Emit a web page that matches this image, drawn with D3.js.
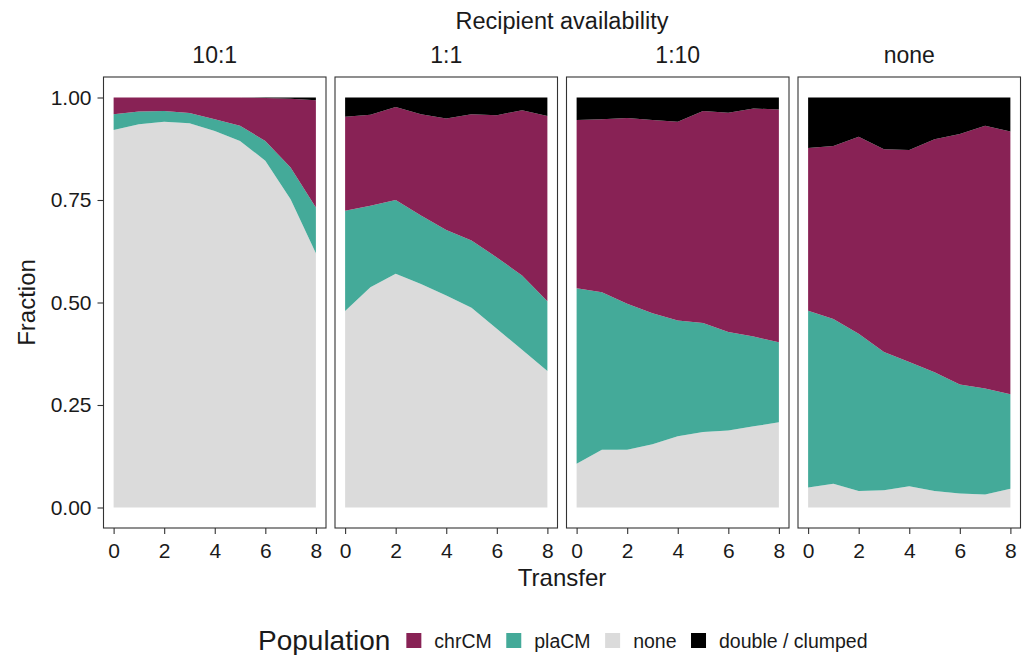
<!DOCTYPE html>
<html>
<head>
<meta charset="utf-8">
<script src="https://cdn.jsdelivr.net/npm/d3@7"></script>
<style>
    body { margin: 0; background: #fff; }
    text { font-family: "Liberation Sans", Arial, sans-serif; fill: #1a1a1a; }
</style>
</head>
<body>
<svg id="chart" width="1028" height="655"></svg>
<script>
// values, one row per recipient availability panel
const transfers = [0, 1, 2, 3, 4, 5, 6, 7, 8];
const availability = ['10:1', '1:1', '1:10', 'none'];
const legendKeys = ['chrCM', 'plaCM', 'none', 'double'];
const legendLabels = ['chrCM', 'plaCM', 'none', 'double / clumped'];
const popColors = { chrCM: '#882255', plaCM: '#44AA99', none: '#DBDBDB', double: '#000000' };
const stackKeys = ['none', 'plaCM', 'chrCM', 'double'];   // bottom to top
const yTicks = [0, 0.25, 0.5, 0.75, 1];
const xTicks = [0, 2, 4, 6, 8];

const noneFrac = [
    [0.921, 0.935, 0.941, 0.937, 0.918, 0.894, 0.846, 0.752, 0.620],
    [0.479, 0.537, 0.570, 0.545, 0.517, 0.487, 0.436, 0.385, 0.333],
    [0.107, 0.141, 0.141, 0.154, 0.174, 0.184, 0.188, 0.198, 0.208],
    [0.049, 0.058, 0.040, 0.042, 0.052, 0.040, 0.034, 0.032, 0.046]
];
const plaFrac = [
    [0.038, 0.031, 0.026, 0.025, 0.029, 0.037, 0.048, 0.077, 0.112],
    [0.245, 0.199, 0.180, 0.167, 0.160, 0.164, 0.174, 0.181, 0.170],
    [0.428, 0.384, 0.356, 0.320, 0.282, 0.266, 0.240, 0.219, 0.195],
    [0.431, 0.402, 0.384, 0.337, 0.303, 0.290, 0.266, 0.258, 0.230]
];
const chrFrac = [
    [0.041, 0.034, 0.033, 0.038, 0.053, 0.069, 0.105, 0.168, 0.261],
    [0.229, 0.222, 0.227, 0.247, 0.272, 0.308, 0.347, 0.403, 0.452],
    [0.410, 0.422, 0.453, 0.471, 0.485, 0.517, 0.535, 0.556, 0.568],
    [0.397, 0.422, 0.480, 0.495, 0.517, 0.568, 0.611, 0.641, 0.641]
];
const doubleFrac = [
    [0.000, 0.000, 0.000, 0.000, 0.000, 0.000, 0.001, 0.003, 0.007],
    [0.047, 0.042, 0.023, 0.041, 0.051, 0.041, 0.043, 0.031, 0.045],
    [0.055, 0.053, 0.050, 0.055, 0.059, 0.033, 0.037, 0.027, 0.029],
    [0.123, 0.118, 0.096, 0.126, 0.128, 0.102, 0.089, 0.069, 0.083]
];

let svg = d3.select('#chart');
let config = {
    left: 103.5,
    top: 77,
    panelWidth: 222.5,
    panelHeight: 451,
    gap: 9
};
let totalRight = config.left + 4 * config.panelWidth + 3 * config.gap;

// ggplot style 5% expansion on both axes
let xScale = d3.scaleLinear().domain([-0.4, 8.4]).range([0, config.panelWidth]);
let yScale = d3.scaleLinear().domain([-0.05, 1.05]).range([config.panelHeight, 0]);

let stack = d3.stack().keys(stackKeys);
let area = d3.area()
    .x(d => xScale(d.data.transfer))
    .y0(d => yScale(d[0]))
    .y1(d => yScale(d[1]));

function panelRows(p) {
    return transfers.map((t, i) => ({
        transfer: t,
        none: noneFrac[p][i],
        plaCM: plaFrac[p][i],
        chrCM: chrFrac[p][i],
        double: doubleFrac[p][i]
    }));
}

availability.forEach((name, p) => {
    let x0 = config.left + p * (config.panelWidth + config.gap);
    let panel = svg.append('g')
        .attr('transform', `translate(${x0},${config.top})`);

    panel.selectAll('path.layer')
        .data(stack(panelRows(p)))
        .enter()
        .append('path')
        .attr('class', 'layer')
        .attr('fill', d => popColors[d.key])
        .attr('d', area);

    panel.append('rect')
        .attr('width', config.panelWidth)
        .attr('height', config.panelHeight)
        .attr('fill', 'none')
        .attr('stroke', '#333333')
        .attr('stroke-width', 1.1);

    // strip label
    svg.append('text')
        .attr('x', x0 + config.panelWidth / 2)
        .attr('y', 62.5)
        .style('text-anchor', 'middle')
        .style('font-size', '23px')
        .text(name);

    let xAxis = panel.append('g')
        .attr('transform', `translate(0,${config.panelHeight})`)
        .call(d3.axisBottom(xScale).tickValues(xTicks).tickSize(6).tickPadding(9));
    xAxis.select('.domain').remove();
    xAxis.selectAll('line').attr('stroke', '#333333').attr('stroke-width', 1.1);
    xAxis.selectAll('text').style('font-size', '21px').attr('fill', '#1a1a1a');
});

// y axis only on the first panel
let yAxis = svg.append('g')
    .attr('transform', `translate(${config.left},${config.top})`)
    .call(d3.axisLeft(yScale).tickValues(yTicks).tickFormat(d3.format('.2f')).tickSize(6).tickPadding(6));
yAxis.select('.domain').remove();
yAxis.selectAll('line').attr('stroke', '#333333').attr('stroke-width', 1.1);
yAxis.selectAll('text').style('font-size', '21px').attr('fill', '#1a1a1a');

// titles
let midX = (config.left + totalRight) / 2;
svg.append('text')
    .attr('x', midX)
    .attr('y', 28.5)
    .style('text-anchor', 'middle')
    .style('font-size', '23.5px')
    .text('Recipient availability');
svg.append('text')
    .attr('x', midX)
    .attr('y', 586)
    .style('text-anchor', 'middle')
    .style('font-size', '24px')
    .text('Transfer');
svg.append('text')
    .attr('transform', `translate(35,${config.top + config.panelHeight / 2}) rotate(-90)`)
    .style('text-anchor', 'middle')
    .style('font-size', '24px')
    .text('Fraction');

// legend
let legend = svg.append('g');
let legendTitle = legend.append('text')
    .attr('x', 258)
    .attr('y', 650)
    .style('font-size', '28px')
    .text('Population');
let cursor = 258 + legendTitle.node().getComputedTextLength() + 16;
legendKeys.forEach((k, i) => {
    legend.append('rect')
        .attr('x', cursor)
        .attr('y', 633)
        .attr('width', 15)
        .attr('height', 15)
        .attr('fill', popColors[k]);
    let label = legend.append('text')
        .attr('x', cursor + 28)
        .attr('y', 647.5)
        .style('font-size', '19.5px')
        .text(legendLabels[i]);
    cursor += 28 + label.node().getComputedTextLength() + 14.5;
});
</script>
</body>
</html>
